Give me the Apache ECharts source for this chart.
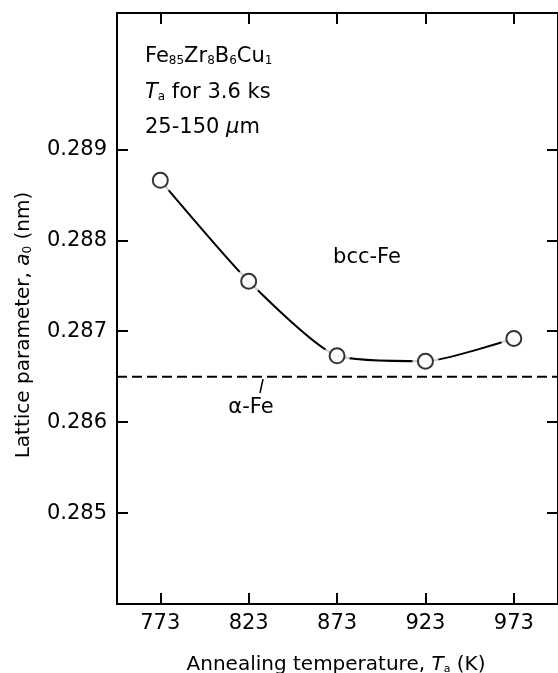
<!DOCTYPE html>
<html><head><meta charset="utf-8">
<script src="https://cdn.jsdelivr.net/npm/echarts@6/dist/echarts.min.js"></script>
<style>html,body{margin:0;padding:0;background:#fff}#c{width:558px;height:673px}</style>
</head><body><div id="c"></div>
<script>
const temperatures = [773, 823, 873, 923, 973];
const latticeParam = [0.28866, 0.28755, 0.28673, 0.28667, 0.28692];
const alphaFe = 0.2865;
const xTicks = [773, 823, 873, 923, 973];
const yTicks = [0.285, 0.286, 0.287, 0.288, 0.289];
const xRange = [748.5, 998];
const yRange = [0.284, 0.2905];

const chart = echarts.init(document.getElementById('c'), null, {renderer: 'canvas'});
const pts = temperatures.map((t, i) => [t, latticeParam[i]]);
const refLine = xRange.map(x => [x, alphaFe]);
const FONT = '"DejaVu Sans", "Liberation Sans", Arial, sans-serif';
const BLACK = '#000';
const axLine = {show: true, onZero: false, lineStyle: {color: BLACK, width: 2}};
const tickX = {show: true, inside: true, length: 11, customValues: xTicks, lineStyle: {color: BLACK, width: 2}};
const tickY = {show: true, inside: true, length: 11, customValues: yTicks, lineStyle: {color: BLACK, width: 2}};

function rich(base, sub) {
  return {
    n: {fontSize: base, fontFamily: FONT, color: BLACK, verticalAlign: 'bottom', lineHeight: 24},
    i: {fontSize: base, fontFamily: FONT, color: BLACK, fontStyle: 'italic', verticalAlign: 'bottom', lineHeight: 24},
    s: {fontSize: sub, fontFamily: FONT, color: BLACK, verticalAlign: 'bottom', lineHeight: sub}
  };
}

const option = {
  animation: false,
  backgroundColor: '#fff',
  grid: {left: 117, right: -8, top: 13, bottom: 69},
  xAxis: [
    {type: 'value', min: xRange[0], max: xRange[1], position: 'bottom', axisLine: axLine, axisTick: tickX,
     axisLabel: {customValues: xTicks, color: BLACK, fontSize: 21, fontFamily: FONT, margin: 9},
     splitLine: {show: false}},
    {type: 'value', min: xRange[0], max: xRange[1], position: 'top', axisLine: axLine, axisTick: tickX,
     axisLabel: {show: false}, splitLine: {show: false}}
  ],
  yAxis: [
    {type: 'value', min: yRange[0], max: yRange[1], position: 'left', axisLine: axLine, axisTick: tickY,
     axisLabel: {customValues: yTicks, color: BLACK, fontSize: 21, fontFamily: FONT, margin: 10,
                 formatter: v => v.toFixed(3)},
     splitLine: {show: false}},
    {type: 'value', min: yRange[0], max: yRange[1], position: 'right', axisLine: axLine, axisTick: tickY,
     axisLabel: {show: false}, splitLine: {show: false}}
  ],
  series: [
    {type: 'line', data: refLine, showSymbol: false, lineStyle: {color: BLACK, width: 2, type: [10, 5]}, z: 1},
    {type: 'line', data: pts, smooth: 0.2, showSymbol: false, lineStyle: {color: BLACK, width: 2}, z: 2},
    {type: 'scatter', data: pts, symbol: 'circle', symbolSize: 26, itemStyle: {color: '#fff'}, z: 3},
    {type: 'scatter', data: pts, symbol: 'circle', symbolSize: 15,
     itemStyle: {color: '#fff', borderColor: BLACK, borderWidth: 2}, z: 4}
  ],
  graphic: [
    {type: 'text', x: 22, y: 325, rotation: Math.PI / 2,
     style: {text: '{n|Lattice parameter, }{i|a}{s|0}{n| (nm)}', rich: rich(20, 12), align: 'center', verticalAlign: 'middle'}},
    {type: 'text', x: 336, y: 663,
     style: {text: '{n|Annealing temperature, }{i|T}{s|a}{n| (K)}', rich: rich(20, 11), align: 'center', verticalAlign: 'middle'}},
    {type: 'text', x: 145, y: 55,
     style: {text: '{n|Fe}{s|85}{n|Zr}{s|8}{n|B}{s|6}{n|Cu}{s|1}', rich: rich(21, 12), align: 'left', verticalAlign: 'middle'}},
    {type: 'text', x: 145, y: 91,
     style: {text: '{i|T}{s|a}{n| for 3.6 ks}', rich: rich(21, 12), align: 'left', verticalAlign: 'middle'}},
    {type: 'text', x: 145, y: 126,
     style: {text: '{n|25-150 }{i|μ}{n|m}', rich: rich(21, 12), align: 'left', verticalAlign: 'middle'}},
    {type: 'text', x: 367, y: 258,
     style: {text: 'bcc-Fe', font: '21px ' + FONT, fill: BLACK, align: 'center', verticalAlign: 'middle'}},
    {type: 'text', x: 251, y: 408,
     style: {text: 'α-Fe', font: '21px ' + FONT, fill: BLACK, align: 'center', verticalAlign: 'middle'}},
    {type: 'line', shape: {x1: 263, y1: 379, x2: 260, y2: 393}, style: {stroke: BLACK, lineWidth: 1.5}}
  ]
};
chart.setOption(option);
</script></body></html>
